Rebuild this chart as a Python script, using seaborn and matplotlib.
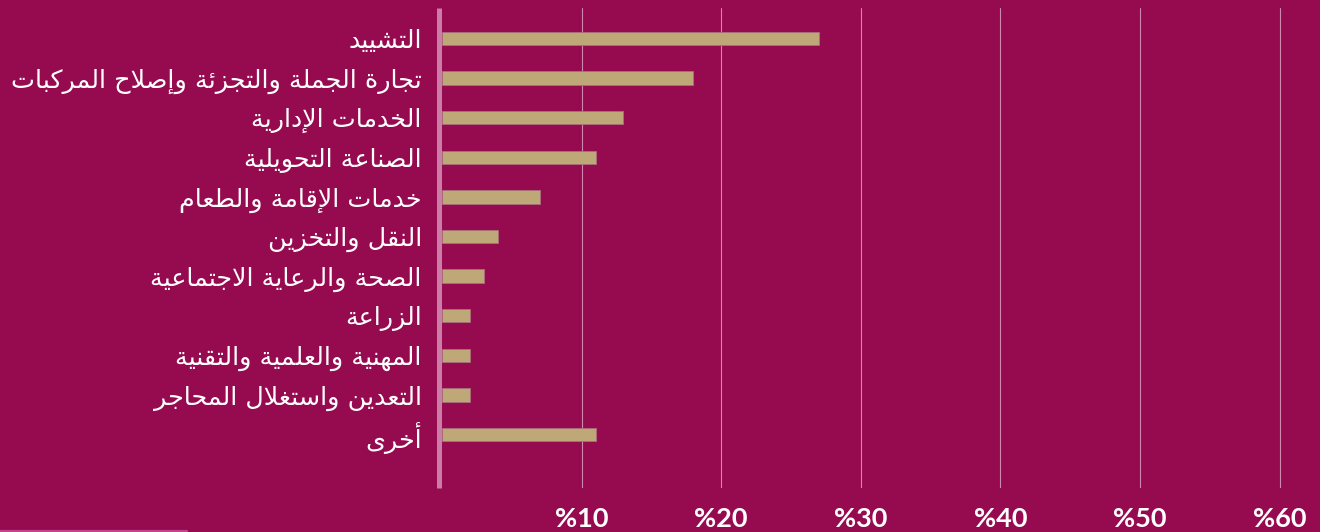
import matplotlib
matplotlib.use("Agg")
import matplotlib.pyplot as plt
from matplotlib.lines import Line2D
import seaborn as sns
import pandas as pd

# Employment share by economic activity (percent)
sectors = [
    "التشييد",
    "تجارة الجملة والتجزئة وإصلاح المركبات",
    "الخدمات الإدارية",
    "الصناعة التحويلية",
    "خدمات الإقامة والطعام",
    "النقل والتخزين",
    "الصحة والرعاية الاجتماعية",
    "الزراعة",
    "المهنية والعلمية والتقنية",
    "التعدين واستغلال المحاجر",
    "أخرى",
]
shares = [27, 18, 13, 11, 7, 4, 3, 2, 2, 2, 11]
x_ticks = [10, 20, 30, 40, 50, 60]

BG = "#960A50"
BAR = "#BFA878"
BAR_EDGE = "#A9707A"
SPINE = "#CB7DA8"
GRID = "#CF88AD"
TEXT = "#FFFFFF"

# --- minimal Arabic contextual shaping (presentation forms) + visual reordering ---
DUAL = {
    0x0626: 0xFE89, 0x0628: 0xFE8F, 0x062A: 0xFE95, 0x062B: 0xFE99,
    0x062C: 0xFE9D, 0x062D: 0xFEA1, 0x062E: 0xFEA5, 0x0633: 0xFEB1,
    0x0634: 0xFEB5, 0x0635: 0xFEB9, 0x0636: 0xFEBD, 0x0637: 0xFEC1,
    0x0638: 0xFEC5, 0x0639: 0xFEC9, 0x063A: 0xFECD, 0x0641: 0xFED1,
    0x0642: 0xFED5, 0x0643: 0xFED9, 0x0644: 0xFEDD, 0x0645: 0xFEE1,
    0x0646: 0xFEE5, 0x0647: 0xFEE9, 0x064A: 0xFEF1,
}
RIGHT = {
    0x0622: 0xFE81, 0x0623: 0xFE83, 0x0624: 0xFE85, 0x0625: 0xFE87,
    0x0627: 0xFE8D, 0x0629: 0xFE93, 0x062F: 0xFEA9, 0x0630: 0xFEAB,
    0x0631: 0xFEAD, 0x0632: 0xFEAF, 0x0648: 0xFEED, 0x0649: 0xFEEF,
}
LAM_ALEF = {0x0622: 0xFEF5, 0x0623: 0xFEF7, 0x0625: 0xFEF9, 0x0627: 0xFEFB}


def shape_arabic(text):
    cps = [ord(c) for c in text]
    out = []
    prev_links = False
    i = 0
    n = len(cps)
    while i < n:
        c = cps[i]
        nxt = cps[i + 1] if i + 1 < n else None
        if c == 0x0644 and nxt in LAM_ALEF:
            out.append(chr(LAM_ALEF[nxt] + (1 if prev_links else 0)))
            prev_links = False
            i += 2
            continue
        if c in DUAL:
            base = DUAL[c]
            links_next = nxt is not None and (nxt in DUAL or nxt in RIGHT)
            if prev_links and links_next:
                g = base + 3
            elif prev_links:
                g = base + 1
            elif links_next:
                g = base + 2
            else:
                g = base
            out.append(chr(g))
            prev_links = links_next
        elif c in RIGHT:
            out.append(chr(RIGHT[c] + (1 if prev_links else 0)))
            prev_links = False
        else:
            out.append(chr(c))
            prev_links = False
        i += 1
    return "".join(reversed(out))


df = pd.DataFrame({"sector": [shape_arabic(s) for s in sectors], "share": shares})

sns.set_theme(style="white")
plt.rcParams["font.family"] = ["DejaVu Sans"]

W, H = 1320, 532
fig = plt.figure(figsize=(W / 100, H / 100), dpi=100, facecolor=BG)
ax = fig.add_axes([442 / W, 1 - 488 / H, (W - 442) / W, 480 / H])
ax.set_facecolor(BG)

sns.barplot(
    data=df, x="share", y="sector", orient="h", color=BAR, saturation=1,
    width=0.34, edgecolor=BAR_EDGE, linewidth=0.6, ax=ax, zorder=3,
)

ax.set_xlim(0, (W - 442) / 13.96)
ax.set_ylim(len(sectors) - 1 + 1.35, -0.77)
ax.set_xticks(x_ticks)
ax.set_xticklabels([f"%{v}" for v in x_ticks])
ax.set_xlabel("")
ax.set_ylabel("")

ax.grid(axis="x", color=GRID, linewidth=0.8, zorder=0)
ax.grid(axis="y", visible=False)
ax.set_axisbelow(True)

for side in ("top", "right", "bottom"):
    ax.spines[side].set_visible(False)
ax.spines["left"].set_color(SPINE)
ax.spines["left"].set_linewidth(3.6)
ax.spines["left"].set_capstyle("butt")
ax.spines["left"].set_position(("outward", 2.5))

ax.tick_params(axis="x", length=0, pad=14, labelsize=19.5, labelcolor=TEXT)
ax.tick_params(axis="y", length=0, pad=12, labelsize=18.3, labelcolor=TEXT)
for lbl in ax.get_xticklabels():
    lbl.set_fontweight("bold")
    lbl.set_family(["Lato", "DejaVu Sans"])

fig.add_artist(Line2D([0, 187 / W], [1 - 531 / H, 1 - 531 / H],
                      transform=fig.transFigure, color="#C2478A", linewidth=1.6))

fig.savefig("out.png", dpi=100, facecolor=BG)
